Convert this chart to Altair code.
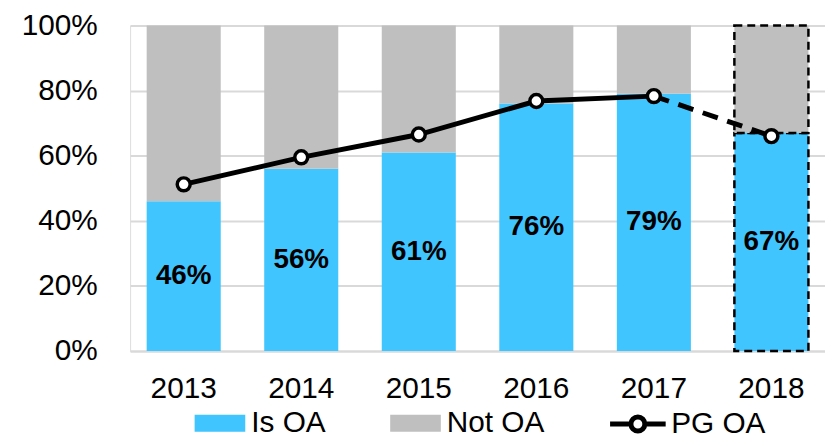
import altair as alt
import pandas as pd

years = ["2013", "2014", "2015", "2016", "2017", "2018"]
is_oa = [0.46, 0.56, 0.61, 0.76, 0.79, 0.67]
pg_oa = [0.512, 0.595, 0.665, 0.768, 0.783, 0.66]
series_names = ["Is OA", "Not OA"]
line_name = "PG OA"

BLUE = "#41C5FF"
GRAY = "#BFBFBF"
GRID = "#D9D9D9"
FONT = "Liberation Sans"

rows = []
for y, v in zip(years, is_oa):
    rows.append({"year": y, "series": "Is OA", "y0": 0.0, "y1": v})
    rows.append({"year": y, "series": "Not OA", "y0": v, "y1": 1.0})
df_bars = pd.DataFrame(rows)

df_lab = pd.DataFrame({"year": years, "mid": [v / 2 for v in is_oa],
                       "label": [f"{round(v*100)}%" for v in is_oa]})
df_pg = pd.DataFrame({"year": years, "pg": pg_oa, "series": line_name})
df_solid = df_pg[df_pg.year != "2018"]
df_dash = df_pg[df_pg.year.isin(["2017", "2018"])]

xenc = alt.X("year:N", sort=years,
             scale=alt.Scale(paddingInner=0.37, paddingOuter=0.141),
             axis=alt.Axis(title=None, labelAngle=0, labelFontSize=30, labelColor="#000000",
                           labelPadding=23, ticks=False, domainColor=GRID, domainWidth=2,
                           labelFont=FONT))
yscale = alt.Scale(domain=[0, 1], nice=False)
yaxis = alt.Axis(title=None, format=".0%", values=[0, 0.2, 0.4, 0.6, 0.8, 1.0],
                 labelFontSize=30, labelColor="#000000", labelPadding=33, ticks=False,
                 domain=False, grid=True, gridColor=GRID, gridWidth=2, labelFont=FONT)

fill_enc = alt.Fill("series:N",
                    scale=alt.Scale(domain=series_names, range=[BLUE, GRAY]),
                    legend=alt.Legend(title=None, orient="none", legendX=65, legendY=375,
                                      direction="horizontal",
                                      symbolType="M-1,-0.333H1V0.333H-1Z", symbolSize=2601,
                                      symbolStrokeWidth=0, labelFontSize=30, labelFont=FONT,
                                      labelColor="#000000", labelOffset=6, columnPadding=64,
                                      padding=0))

bars = alt.Chart(df_bars).transform_filter(alt.datum.year != "2018").mark_bar().encode(
    x=xenc, y=alt.Y("y0:Q", scale=yscale, axis=yaxis), y2="y1:Q", fill=fill_enc)

bars18 = alt.Chart(df_bars).transform_filter(alt.datum.year == "2018").mark_bar(
    stroke="black", strokeWidth=2.5, strokeDash=[8, 5]).encode(
    x=xenc, y=alt.Y("y0:Q", scale=yscale, axis=yaxis), y2="y1:Q", fill=fill_enc)

labels = alt.Chart(df_lab).mark_text(fontSize=28, fontWeight="bold", font=FONT,
                                     color="black", baseline="middle").encode(
    x=xenc, y=alt.Y("mid:Q", scale=yscale, axis=yaxis), text="label:N")

line_solid = alt.Chart(df_solid).mark_line(strokeWidth=5).encode(
    x=xenc, y=alt.Y("pg:Q", scale=yscale, axis=yaxis),
    stroke=alt.Stroke("series:N", scale=alt.Scale(domain=[line_name], range=["black"]),
                      legend=alt.Legend(title=None, orient="none", legendX=481, legendY=371,
                                        symbolType="M-1,0H-0.25A0.25,0.25,0,1,1,0.25,0A0.25,0.25,0,1,1,-0.25,0M0.25,0H1",
                                        symbolSize=3136, symbolStrokeWidth=5,
                                        symbolFillColor="white", symbolStrokeColor="black",
                                        labelFontSize=30, labelFont=FONT, labelColor="#000000",
                                        labelOffset=3, padding=0)))

line_dash = alt.Chart(df_dash).mark_line(strokeWidth=5, strokeDash=[16, 10], color="black").encode(
    x=xenc, y=alt.Y("pg:Q", scale=yscale, axis=yaxis))

points = alt.Chart(df_pg).mark_point(shape="circle", filled=True, fill="white", stroke="black",
                                     strokeWidth=3.5, size=170, opacity=1).encode(
    x=xenc, y=alt.Y("pg:Q", scale=yscale, axis=yaxis))

chart = alt.layer(bars, bars18, labels, line_solid, line_dash, points).properties(
    width=700, height=328,
    padding={"left": 123, "top": 16, "right": 0, "bottom": 86},
    autosize=alt.AutoSizeParams(type="none"),
).configure_view(stroke=None).configure(font=FONT)

chart.save("out.html", embed_options={"renderer": "svg", "actions": False})
